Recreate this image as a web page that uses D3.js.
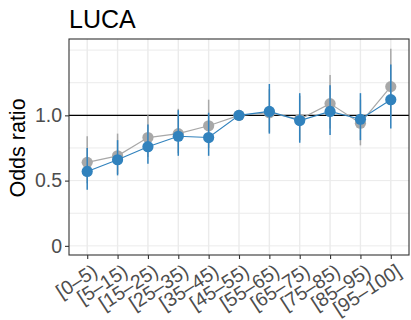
<!DOCTYPE html>
<html>
<head>
<meta charset="utf-8">
<script src="https://cdn.jsdelivr.net/npm/d3@7/dist/d3.min.js"></script>
<style>
  html, body { margin: 0; padding: 0; background: #fff; }
  svg { display: block; font-family: "Liberation Sans", Arial, Helvetica, sans-serif; }
</style>
</head>
<body>
<svg id="chart" width="411" height="320"></svg>
<script>
// Age-percentile bins
const categories = ["[0\u20135)", "[5\u201315)", "[15\u201325)", "[25\u201335)", "[35\u201345)", "[45\u201355)",
                    "[55\u201365)", "[65\u201375)", "[75\u201385)", "[85\u201395)", "[95\u2013100]"];

// Grey series: odds ratio and confidence bounds
const greyOR    = [0.64, 0.69, 0.83, 0.86, 0.92, 1.00, 1.02, 0.97, 1.09, 0.94, 1.22];
const greyLower = [0.48, 0.55, 0.68, 0.71, 0.75, 1.00, 0.87, 0.81, 0.90, 0.77, 0.99];
const greyUpper = [0.84, 0.86, 1.00, 1.05, 1.12, 1.00, 1.20, 1.15, 1.31, 1.12, 1.51];

// Blue series: odds ratio and confidence bounds
const blueOR    = [0.57, 0.66, 0.76, 0.84, 0.83, 1.00, 1.03, 0.96, 1.03, 0.97, 1.12];
const blueLower = [0.43, 0.54, 0.63, 0.69, 0.69, 1.00, 0.86, 0.79, 0.85, 0.81, 0.90];
const blueUpper = [0.75, 0.81, 0.93, 1.04, 1.02, 1.00, 1.24, 1.17, 1.23, 1.17, 1.39];

const yTicks = [0, 0.5, 1.0];
const yGrid  = [0, 0.25, 0.5, 0.75, 1.0, 1.25, 1.5];

const svg = d3.select("#chart");
const panel = { left: 69, right: 409, top: 39, bottom: 255 };

const x = d3.scalePoint().domain(categories).range([panel.left, panel.right]).padding(0.6);
const y = d3.scaleLinear().domain([-0.07, 1.585]).range([panel.bottom, panel.top]);

// Title
svg.append("text").attr("x", panel.left).attr("y", 28)
  .attr("font-size", 25).attr("fill", "#000").text("LUCA");

// Gridlines
const g = svg.append("g");
g.selectAll(".hg").data(yGrid).join("line")
  .attr("x1", panel.left).attr("x2", panel.right)
  .attr("y1", d => y(d)).attr("y2", d => y(d))
  .attr("stroke", "#ebebeb").attr("stroke-width", 1);
g.selectAll(".vg").data(categories).join("line")
  .attr("x1", d => x(d)).attr("x2", d => x(d))
  .attr("y1", panel.top).attr("y2", panel.bottom)
  .attr("stroke", "#ebebeb").attr("stroke-width", 1.4);

// Reference line at OR = 1
g.append("line").attr("x1", panel.left).attr("x2", panel.right)
  .attr("y1", y(1)).attr("y2", y(1)).attr("stroke", "#000").attr("stroke-width", 1.1);

function drawSeries(or, lo, hi, color, lineW) {
  const s = svg.append("g");
  s.selectAll("line.err").data(categories).join("line")
    .attr("x1", d => x(d)).attr("x2", d => x(d))
    .attr("y1", (d, i) => y(lo[i])).attr("y2", (d, i) => y(hi[i]))
    .attr("stroke", color).attr("stroke-width", 1.5);
  s.append("path")
    .attr("d", d3.line().x((d, i) => x(categories[i])).y(d => y(d))(or))
    .attr("fill", "none").attr("stroke", color).attr("stroke-width", lineW);
  s.selectAll("circle").data(or).join("circle")
    .attr("cx", (d, i) => x(categories[i])).attr("cy", d => y(d))
    .attr("r", 5.6).attr("fill", color);
}
drawSeries(greyOR, greyLower, greyUpper, "#a8a8a8", 1.2);
drawSeries(blueOR, blueLower, blueUpper, "#3182bd", 1.1);

// Panel border
svg.append("rect").attr("x", panel.left).attr("y", panel.top)
  .attr("width", panel.right - panel.left).attr("height", panel.bottom - panel.top)
  .attr("fill", "none").attr("stroke", "#333").attr("stroke-width", 1.1);

// Y axis
const yAxis = svg.append("g").attr("transform", `translate(${panel.left},0)`)
  .call(d3.axisLeft(y).tickValues(yTicks).tickSize(4).tickPadding(3)
    .tickFormat(d => d === 0 ? "0" : d3.format(".1f")(d)));
yAxis.select(".domain").remove();
yAxis.selectAll(".tick line").attr("stroke", "#333").attr("stroke-width", 1.1);
yAxis.selectAll(".tick text").attr("fill", "#4d4d4d").attr("font-size", 19.5)
  .attr("font-family", "Liberation Sans, Arial, sans-serif");

// X axis
const xAxis = svg.append("g").attr("transform", `translate(0,${panel.bottom})`)
  .call(d3.axisBottom(x).tickSize(4).tickPadding(3));
xAxis.select(".domain").remove();
xAxis.selectAll(".tick line").attr("stroke", "#333").attr("stroke-width", 1.1);
xAxis.selectAll(".tick text")
  .attr("fill", "#4d4d4d").attr("font-size", 19.5)
  .attr("font-family", "Liberation Sans, Arial, sans-serif")
  .attr("text-anchor", "end").attr("dy", "0.6em")
  .attr("transform", "translate(1,4) rotate(-33)");

// Y axis title
svg.append("text").attr("transform", `translate(25,148) rotate(-90)`)
  .attr("text-anchor", "middle").attr("font-size", 21.5).attr("fill", "#000").text("Odds ratio");
</script>
</body>
</html>
